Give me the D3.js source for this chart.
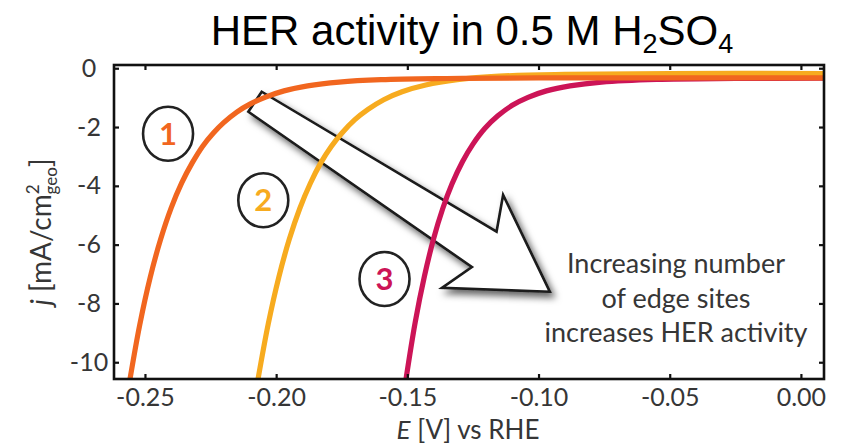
<!DOCTYPE html>
<html>
<head>
<meta charset="utf-8">
<script src="https://cdn.jsdelivr.net/npm/d3@7"></script>
<style>
  html, body { margin: 0; padding: 0; background: #fff; }
  svg { display: block; }
</style>
</head>
<body>
<svg id="chart" width="843" height="446"></svg>
<script>
// ---------------- data ----------------
const xTicks = [-0.25, -0.20, -0.15, -0.10, -0.05, 0.00];
const yTicks = [0, -2, -4, -6, -8, -10];

// curve 1 (orange): potential E [V] and current density j [mA/cm2]
const curve1E = [-0.2557, -0.2520, -0.2480, -0.2440, -0.2400, -0.2360, -0.2320, -0.2280, -0.2240, -0.2200, -0.2150, -0.2100, -0.2040, -0.1970, -0.1880, -0.1760, -0.1600, -0.1350, -0.1000, 0.0088];
const curve1J = [-10.57, -8.73, -7.11, -5.81, -4.75, -3.90, -3.22, -2.65, -2.21, -1.85, -1.49, -1.22, -0.98, -0.77, -0.60, -0.47, -0.39, -0.35, -0.33, -0.33];
// curve 2 (yellow)
const curve2E = [-0.2069, -0.2030, -0.1990, -0.1950, -0.1910, -0.1870, -0.1830, -0.1790, -0.1750, -0.1700, -0.1650, -0.1590, -0.1520, -0.1430, -0.1310, -0.1150, -0.0900, -0.0500, 0.0088];
const curve2J = [-10.57, -8.69, -7.11, -5.82, -4.77, -3.92, -3.22, -2.66, -2.21, -1.75, -1.40, -1.07, -0.80, -0.57, -0.39, -0.27, -0.21, -0.18, -0.18];
// curve 3 (crimson)
const curve3E = [-0.1505, -0.1470, -0.1435, -0.1400, -0.1365, -0.1330, -0.1290, -0.1250, -0.1205, -0.1155, -0.1100, -0.1040, -0.0970, -0.0880, -0.0760, -0.0550, -0.0250, 0.0088];
const curve3J = [-10.57, -8.64, -7.08, -5.80, -4.77, -3.94, -3.18, -2.58, -2.05, -1.62, -1.26, -0.99, -0.77, -0.60, -0.47, -0.38, -0.35, -0.34];

const seriesLabels = ["1", "2", "3"];
const seriesColors = ["#f1661f", "#f7ab1f", "#cc1457"];
// circled-number label positions (E, j)
const labelE = [-0.2412, -0.2049, -0.1587];
const labelJ = [-2.23, -4.49, -7.17];

// big arrow outline (E, j)
const arrowE = [-0.2055, -0.1160, -0.1135, -0.0957, -0.1368, -0.1254, -0.2106];
const arrowJ = [-0.80, -5.56, -4.31, -7.60, -7.47, -6.76, -1.48];

const noteLines = ["Increasing number", "of edge sites", "increases HER activity"];
const noteE = -0.0476;
const noteJ = [-6.95, -8.15, -9.30];

// ---------------- layout ----------------
const L = 114, R = 824, T = 65, B = 379;
const svg = d3.select("#chart");

const x = d3.scaleLinear().domain([-0.2618, 0.0088]).range([L, R]);
const y = d3.scaleLinear().domain([-10.57, 0.11]).range([B, T]);

const txtFont = "Lato, 'Open Sans', sans-serif";
const txtColor = "#363636";

// defs
const defs = svg.append("defs");
defs.append("clipPath").attr("id", "plotclip")
  .append("rect").attr("x", L).attr("y", T).attr("width", R - L).attr("height", B - T);
const f = defs.append("filter").attr("id", "shadow")
  .attr("x", "-20%").attr("y", "-20%").attr("width", "150%").attr("height", "150%");
f.append("feDropShadow").attr("dx", 4).attr("dy", 5).attr("stdDeviation", 3.5)
  .attr("flood-color", "#000").attr("flood-opacity", 0.6);

// title
const title = svg.append("text")
  .attr("x", 472).attr("y", 45)
  .attr("text-anchor", "middle")
  .style("font-family", "'Liberation Sans', Arial, sans-serif")
  .style("font-size", "42px")
  .style("fill", "#000");
title.append("tspan").text("HER activity in 0.5 M H");
title.append("tspan").attr("dy", 8).style("font-size", "27px").text("2");
title.append("tspan").attr("dy", -8).text("SO");
title.append("tspan").attr("dy", 8).style("font-size", "27px").text("4");

// arrow (drawn beneath the curves)
const arrowPts = arrowE.map((e, i) => [x(e), y(arrowJ[i])]);
svg.append("path")
  .attr("d", d3.line()(arrowPts) + "Z")
  .attr("fill", "#fff")
  .attr("stroke", "#1a1a1a")
  .attr("stroke-width", 2.6)
  .attr("stroke-linejoin", "miter")
  .attr("filter", "url(#shadow)");

// curves
const curves = [
  curve3E.map((e, i) => [e, curve3J[i]]),
  curve2E.map((e, i) => [e, curve2J[i]]),
  curve1E.map((e, i) => [e, curve1J[i]])
];
const curveColors = [seriesColors[2], seriesColors[1], seriesColors[0]];
const line = d3.line().x(d => x(d[0])).y(d => y(d[1])).curve(d3.curveCatmullRom.alpha(0.5));
const gCurves = svg.append("g").attr("clip-path", "url(#plotclip)");
curves.forEach((c, i) => {
  gCurves.append("path")
    .attr("d", line(c))
    .attr("fill", "none")
    .attr("stroke", curveColors[i])
    .attr("stroke-width", 5.2)
    .attr("stroke-linecap", "round");
});

// circled labels
seriesLabels.forEach((s, i) => {
  const cx = x(labelE[i]), cy = y(labelJ[i]);
  svg.append("ellipse").attr("cx", cx).attr("cy", cy).attr("rx", 25).attr("ry", 27)
    .attr("fill", "none").attr("stroke", "#222").attr("stroke-width", 2.6);
  svg.append("text").attr("x", cx).attr("y", cy + 11)
    .attr("text-anchor", "middle")
    .style("font-family", txtFont).style("font-weight", "bold").style("font-size", "31px")
    .style("fill", seriesColors[i]).text(s);
});

// annotation text
noteLines.forEach((t, i) => {
  svg.append("text").attr("x", x(noteE)).attr("y", y(noteJ[i]))
    .attr("text-anchor", "middle")
    .style("font-family", txtFont).style("font-size", "27px")
    .style("fill", txtColor).text(t);
});

// axes (box with inward ticks)
const axB = svg.append("g").attr("transform", `translate(0,${B})`)
  .call(d3.axisBottom(x).tickValues(xTicks).tickSize(-5).tickPadding(9).tickFormat(d => d.toFixed(2)));
const axT = svg.append("g").attr("transform", `translate(0,${T})`)
  .call(d3.axisTop(x).tickValues(xTicks).tickSize(-5).tickFormat(""));
const axL = svg.append("g").attr("transform", `translate(${L},0)`)
  .call(d3.axisLeft(y).tickValues(yTicks).tickSize(-5).tickPadding(8).tickFormat(d => String(d)));
const axR = svg.append("g").attr("transform", `translate(${R},0)`)
  .call(d3.axisRight(y).tickValues(yTicks).tickSize(-5).tickFormat(""));
[axB, axT, axL, axR].forEach(g => {
  g.select(".domain").remove();
  g.selectAll(".tick line").attr("stroke", "#111").attr("stroke-width", 2.2);
  g.selectAll("text").style("font-family", txtFont).style("font-size", "25px").style("fill", txtColor);
});
axL.selectAll(".tick text").attr("text-anchor", "middle").attr("x", -25);

svg.append("rect").attr("x", L).attr("y", T).attr("width", R - L).attr("height", B - T)
  .attr("fill", "none").attr("stroke", "#111").attr("stroke-width", 2.6);

// axis titles
const xl = svg.append("text").attr("x", 468).attr("y", 439).attr("text-anchor", "middle")
  .style("font-family", txtFont).style("font-size", "26px").style("fill", txtColor);
xl.append("tspan").style("font-style", "italic").text("E");
xl.append("tspan").text(" [V] vs RHE");

const yl = svg.append("text")
  .attr("transform", `translate(51,${(T + B) / 2 + 10}) rotate(-90)`)
  .attr("text-anchor", "middle")
  .style("font-family", txtFont).style("font-size", "28px").style("fill", txtColor);
yl.append("tspan").style("font-style", "italic").text("j");
yl.append("tspan").text(" [mA/cm");
yl.append("tspan").attr("dy", -12).style("font-size", "17px").text("2");
yl.append("tspan").attr("dx", -10).attr("dy", 18).style("font-size", "17px").text("geo");
yl.append("tspan").attr("dy", -6).text("]");
</script>
</body>
</html>
